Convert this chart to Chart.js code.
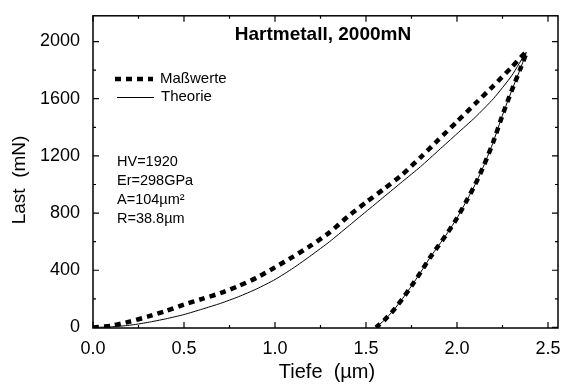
<!DOCTYPE html>
<html>
<head>
<meta charset="utf-8">
<script src="https://cdn.jsdelivr.net/npm/chart.js@4.4.0/dist/chart.umd.min.js"></script>
<style>
  html, body { margin: 0; background: #fff; }
  canvas { display: block; }
</style>
</head>
<body>
<canvas id="chart" width="571" height="385"></canvas>
<script>
// Indentation curve, hard metal at 2000 mN: measured loading/unloading + theory.
const FONT = '"Liberation Sans", Arial, Helvetica, sans-serif';

// measured, loading branch (depth µm, load mN)
const loadDepth = [0, 0.1, 0.2, 0.3, 0.4, 0.5, 0.6, 0.7, 0.8, 0.9, 1.0, 1.1, 1.2,
                   1.3, 1.4, 1.5, 1.6, 1.7, 1.8, 1.9, 2.0, 2.1, 2.2, 2.3, 2.38];
const loadForce = [0, 12, 40, 75, 115, 160, 200, 240, 290, 348, 420, 495, 575,
                   665, 775, 875, 970, 1070, 1190, 1315, 1440, 1565, 1690, 1820, 1925];

// measured, unloading branch (from the maximum down)
const unloadDepth = [2.38, 2.35, 2.3, 2.25, 2.2, 2.15, 2.1, 2.05, 2.0, 1.95, 1.9,
                     1.85, 1.8, 1.75, 1.7, 1.65, 1.6, 1.555];
const unloadForce = [1925, 1815, 1655, 1485, 1300, 1140, 1000, 880, 765, 665, 575,
                     485, 385, 290, 200, 118, 50, 0];

// theory, loading branch
const theoryDepth = [0, 0.1, 0.2, 0.3, 0.4, 0.5, 0.6, 0.7, 0.8, 0.9, 1.0, 1.1, 1.2,
                     1.3, 1.4, 1.5, 1.6, 1.7, 1.8, 1.9, 2.0, 2.1, 2.2, 2.3, 2.38];
const theoryForce = [0, 4, 15, 35, 60, 90, 128, 168, 215, 270, 335, 415, 505,
                     600, 705, 810, 915, 1020, 1125, 1240, 1355, 1470, 1600, 1760, 1925];

const xTicks = [0, 0.5, 1.0, 1.5, 2.0, 2.5];
const yTicks = [0, 400, 800, 1200, 1600, 2000];
const notes = ['HV=1920', 'Er=298GPa', 'A=104µm²', 'R=38.8µm'];

const pts = (xs, ys) => xs.map((x, i) => ({ x, y: ys[i] }));
const unloadPts = pts(unloadDepth, unloadForce).slice(1);

const DASH = [6, 5];

// box + inward ticks on all four sides (major and minor)
const frameTicks = {
  id: 'frameTicks',
  afterDraw(chart) {
    const { ctx, chartArea: a, scales: { x, y } } = chart;
    ctx.save();
    ctx.strokeStyle = '#000';
    ctx.lineWidth = 1.2;
    ctx.beginPath();
    for (let i = 0; i <= 10; i++) {
      const v = i * 0.25, px = x.getPixelForValue(v), len = i % 2 ? 3 : 6;
      ctx.moveTo(px, a.bottom); ctx.lineTo(px, a.bottom - len);
      ctx.moveTo(px, a.top); ctx.lineTo(px, a.top + len);
    }
    for (let i = 0; i <= 10; i++) {
      const v = i * 200, py = y.getPixelForValue(v), len = i % 2 ? 3 : 6;
      ctx.moveTo(a.left, py); ctx.lineTo(a.left + len, py);
      ctx.moveTo(a.right, py); ctx.lineTo(a.right - len, py);
    }
    ctx.stroke();
    ctx.lineWidth = 1.5;
    ctx.strokeRect(a.left, a.top, a.right - a.left, a.bottom - a.top);
    ctx.restore();
  },
};

// title, legend, material values and axis titles
const textLayer = {
  id: 'textLayer',
  afterDraw(chart) {
    const { ctx } = chart;
    ctx.save();
    ctx.fillStyle = '#000';
    ctx.textBaseline = 'middle';

    ctx.font = `bold 19px ${FONT}`;
    ctx.textAlign = 'center';
    ctx.fillText('Hartmetall, 2000mN', 323, 35);

    // legend
    ctx.strokeStyle = '#000';
    ctx.lineWidth = 4.5;
    ctx.setLineDash(DASH);
    ctx.beginPath(); ctx.moveTo(115, 79); ctx.lineTo(153, 79); ctx.stroke();
    ctx.setLineDash([]);
    ctx.lineWidth = 1;
    ctx.beginPath(); ctx.moveTo(117, 97.5); ctx.lineTo(154, 97.5); ctx.stroke();
    ctx.font = `15px ${FONT}`;
    ctx.textAlign = 'left';
    ctx.fillText('Maßwerte', 160, 79);
    ctx.fillText('Theorie', 161, 97);

    ctx.font = `14.5px ${FONT}`;
    [162, 181, 200, 219].forEach((yy, i) => ctx.fillText(notes[i], 117, yy));

    ctx.font = `20px ${FONT}`;
    ctx.textAlign = 'center';
    ctx.fillText('Tiefe  (µm)', 327, 372);

    ctx.translate(20, 180);
    ctx.rotate(-Math.PI / 2);
    ctx.font = `19px ${FONT}`;
    ctx.fillText('Last  (mN)', 0, 0);
    ctx.restore();
  },
};

new Chart(document.getElementById('chart'), {
  type: 'scatter',
  data: {
    datasets: [
      {
        label: 'Maßwerte',
        data: pts(loadDepth, loadForce).concat(unloadPts),
        showLine: true,
        borderColor: '#000',
        borderWidth: 4.5,
        borderDash: DASH,
        pointRadius: 0,
        tension: 0.2,
      },
      {
        label: 'Theorie',
        data: pts(theoryDepth, theoryForce).concat(unloadPts),
        showLine: true,
        borderColor: '#000',
        borderWidth: 1,
        pointRadius: 0,
        tension: 0.2,
      },
    ],
  },
  options: {
    responsive: false,
    animation: false,
    layout: { padding: { left: 0, top: 9, right: 13, bottom: 0 } },
    scales: {
      x: {
        type: 'linear',
        min: 0,
        max: 2.555,
        afterBuildTicks: (s) => { s.ticks = xTicks.map((v) => ({ value: v })); },
        afterFit: (s) => { s.height = 57; },
        grid: { display: false },
        border: { display: false },
        ticks: {
          padding: 2,
          color: '#000',
          font: { family: FONT, size: 18 },
          maxRotation: 0,
          callback: (v) => Number(v).toFixed(1),
        },
      },
      y: {
        type: 'linear',
        min: -4,
        max: 2180,
        afterBuildTicks: (s) => { s.ticks = yTicks.map((v) => ({ value: v })); },
        afterFit: (s) => { s.width = 93; },
        grid: { display: false },
        border: { display: false },
        ticks: {
          padding: 5,
          color: '#000',
          font: { family: FONT, size: 18 },
          callback: (v) => String(v),
        },
      },
    },
    plugins: { legend: { display: false }, tooltip: { enabled: false } },
  },
  plugins: [frameTicks, textLayer],
});
</script>
</body>
</html>
